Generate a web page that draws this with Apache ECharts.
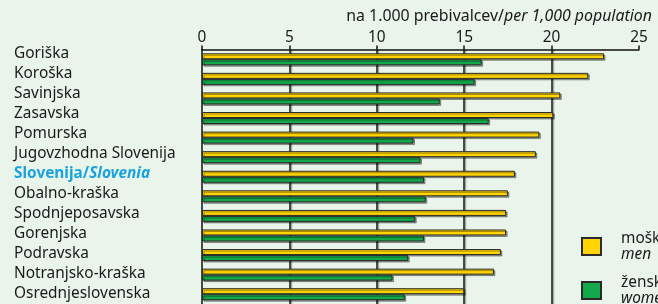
<!DOCTYPE html>
<html>
  <head>
    <meta charset="utf-8" />
    <script src="https://cdn.jsdelivr.net/npm/echarts@6/dist/echarts.min.js"></script>
    <style>
      html, body { margin: 0; padding: 0; background: #e9f4ea; }
    </style>
  </head>
  <body>
    <div id="main" style="width: 658px; height: 304px"></div>

    <script type="text/javascript">
      // regions, top to bottom
      var regions = [
        "Goriška", "Koroška", "Savinjska", "Zasavska", "Pomurska",
        "Jugovzhodna Slovenija", "Slovenija/Slovenia", "Obalno-kraška",
        "Spodnjeposavska", "Gorenjska", "Podravska", "Notranjsko-kraška",
        "Osrednjeslovenska"
      ];
      // per 1,000 population
      var men = [23.0, 22.1, 20.5, 20.1, 19.3, 19.1, 17.9, 17.5, 17.4, 17.4, 17.1, 16.7, 15.0];
      var women = [16.0, 15.6, 13.6, 16.4, 12.1, 12.5, 12.7, 12.8, 12.2, 12.7, 11.8, 10.9, 11.6];
      var seriesNames = ["moški", "ženske"];
      var seriesNamesEn = ["men", "women"];
      var xTicks = [0, 5, 10, 15, 20, 25];

      var myChart = echarts.init(document.getElementById("main"));

      var font = "Noto Sans";
      var fs = 15.4;
      var barBorder = {
        borderColor: "#2a2a2a",
        borderWidth: 1,
        shadowColor: "rgba(0,0,0,0.35)",
        shadowOffsetX: 1.5,
        shadowOffsetY: 1.5,
        shadowBlur: 0
      };

      var option = {
        backgroundColor: "#e9f4ea",
        animation: false,
        textStyle: { fontFamily: font },
        graphic: [
          {
            type: "text",
            right: 6,
            top: 8,
            style: {
              text: "{a|na 1.000 prebivalcev/}{b|per 1,000 population}",
              rich: {
                a: { fontFamily: font, fontSize: 15.9, fill: "#1a1a1a" },
                b: { fontFamily: font, fontSize: 15.9, fontStyle: "italic", fill: "#1a1a1a" }
              }
            }
          }
        ],
        legend: {
          orient: "vertical",
          left: 581,
          top: 231,
          height: 140,
          padding: 0,
          itemGap: 13,
          itemWidth: 19,
          itemHeight: 17,
          icon: "rect",
          data: seriesNames,
          formatter: function (name) {
            var en = seriesNamesEn[seriesNames.indexOf(name)];
            return "{a|" + name + "}\n{b|" + en + "}";
          },
          textStyle: {
            rich: {
              a: { fontFamily: font, fontSize: fs, color: "#1a1a1a", lineHeight: 16, padding: [0, 0, 0, 15] },
              b: { fontFamily: font, fontSize: fs, fontStyle: "italic", color: "#1a1a1a", lineHeight: 16, padding: [0, 0, 0, 15] }
            }
          }
        },
        grid: [
          { left: 202, top: 49.5, right: 19, bottom: 0, containLabel: false },
          { left: 202, top: 43.2, right: 19, height: 263.6, containLabel: false }
        ],
        xAxis: [
          {
            type: "value",
            gridIndex: 0,
            position: "top",
            min: xTicks[0],
            max: xTicks[xTicks.length - 1],
            interval: 5,
            axisLine: { show: true, lineStyle: { color: "#111", width: 1.5 } },
            axisTick: { show: true, length: 4, lineStyle: { color: "#111", width: 1.5 } },
            axisLabel: { margin: 4, fontSize: fs, color: "#1a1a1a", fontFamily: font },
            splitLine: {
              show: true,
              showMinLine: false,
              showMaxLine: false,
              lineStyle: {
                color: "#151515",
                width: 1.5,
                shadowColor: "rgba(0,0,0,0.3)",
                shadowOffsetX: 1.5
              }
            }
          },
          { type: "value", gridIndex: 1, show: false, min: 0, max: 25 }
        ],
        yAxis: [
          {
            type: "category",
            gridIndex: 0,
            inverse: true,
            data: regions,
            axisLine: { show: true, lineStyle: { color: "#111", width: 1.5 } },
            axisTick: { show: false },
            axisLabel: { show: false },
            splitLine: { show: false }
          },
          {
            type: "category",
            gridIndex: 1,
            inverse: true,
            data: regions,
            axisLine: { show: false },
            axisTick: { show: false },
            splitLine: { show: false },
            axisLabel: {
              align: "left",
              margin: 188,
              fontSize: fs,
              fontFamily: font,
              color: "#1a1a1a",
              formatter: function (v) {
                if (v === "Slovenija/Slovenia") {
                  return "{s|Slovenija/}{si|Slovenia}";
                }
                return v;
              },
              rich: {
                s: { fontFamily: font, fontSize: fs, fontWeight: "bold", color: "#1ba3de" },
                si: { fontFamily: font, fontSize: fs, fontWeight: "bold", fontStyle: "italic", color: "#1ba3de" }
              }
            }
          }
        ],
        series: [
          {
            name: seriesNames[0],
            type: "bar",
            xAxisIndex: 0,
            yAxisIndex: 0,
            barWidth: 6,
            barGap: "0%",
            data: men,
            itemStyle: Object.assign({ color: "#ffd400" }, barBorder)
          },
          {
            name: seriesNames[1],
            type: "bar",
            xAxisIndex: 0,
            yAxisIndex: 0,
            barWidth: 6,
            barGap: "0%",
            data: women,
            itemStyle: Object.assign({ color: "#13a84a" }, barBorder)
          }
        ]
      };

      myChart.setOption(option);
    </script>
  </body>
</html>
